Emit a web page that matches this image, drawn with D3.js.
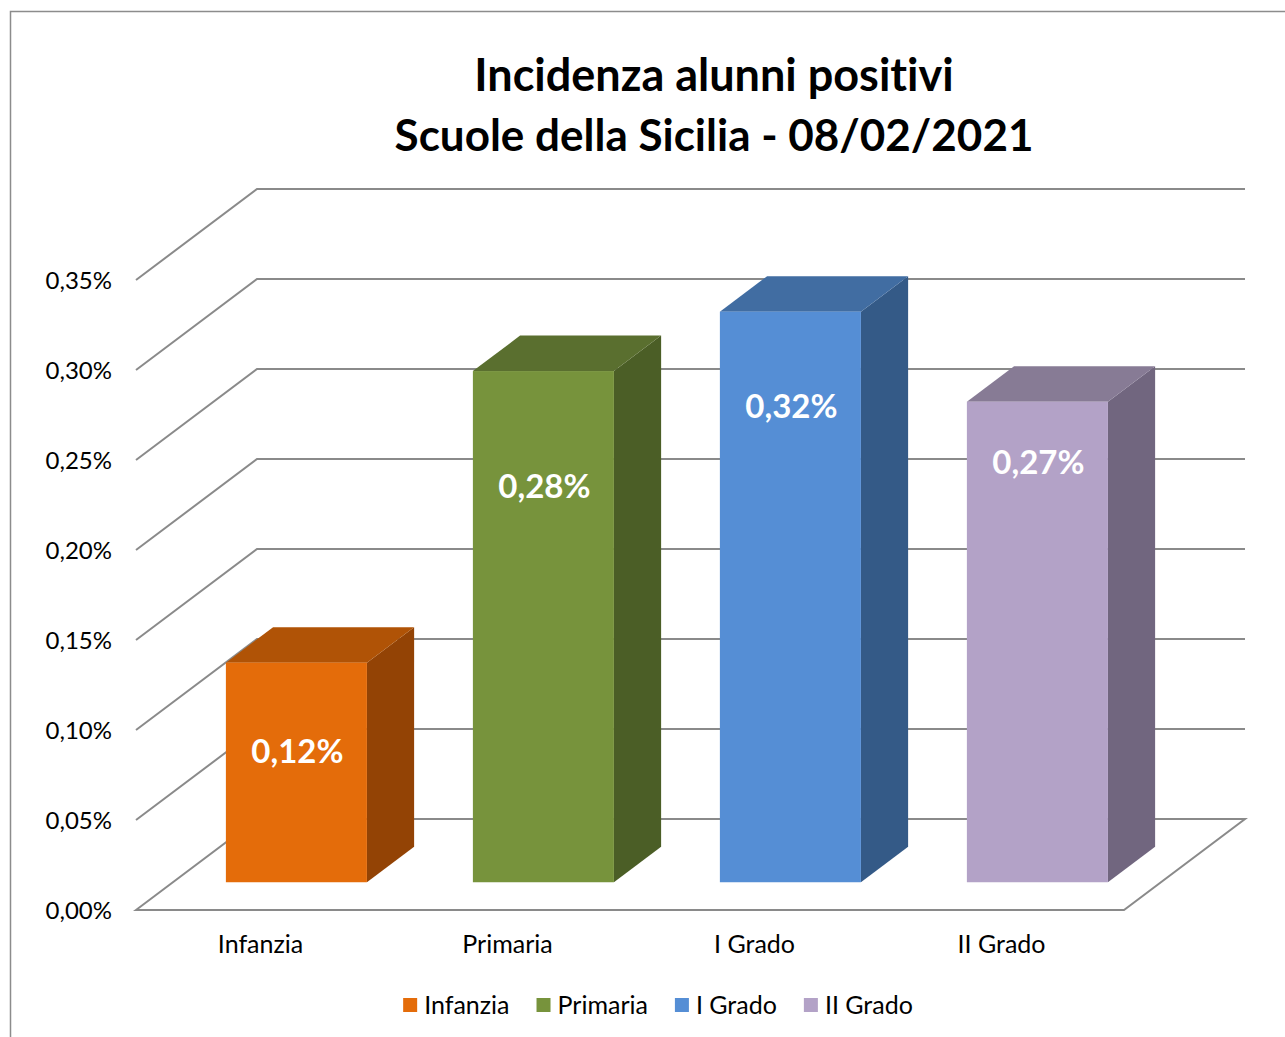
<!DOCTYPE html>
<html>
<head>
<meta charset="utf-8">
<script src="https://cdn.jsdelivr.net/npm/d3@7"></script>
<style>
  html, body { margin: 0; padding: 0; background: #fff; }
  svg { display: block; font-family: Lato, "Open Sans", sans-serif; font-variant-ligatures: none; font-feature-settings: "liga" 0; }
</style>
</head>
<body>
<svg id="chart" width="1285" height="1037"></svg>
<script>
// ---- data ----
const titleLines = ["Incidenza alunni positivi", "Scuole della Sicilia - 08/02/2021"];
const categories = ["Infanzia", "Primaria", "I Grado", "II Grado"];
const values = [0.00122, 0.00284, 0.00317, 0.00267];
const yTicks = [0, 0.0005, 0.001, 0.0015, 0.002, 0.0025, 0.003, 0.0035];
const frontColors = ["#E46C0A", "#77933C", "#558ED5", "#B3A2C7"];
const topColors   = ["#B05306", "#5A6F2F", "#416DA2", "#877B95"];
const sideColors  = ["#934305", "#4B5E26", "#345A87", "#71667F"];

// ---- layout ----
const svg = d3.select("#chart");
const W = 1285, H = 1037;
const floorX0 = 136, floorX1 = 1124, floorY = 910;
const DX = 121, DY = 91;             // full depth offset of the 3D box
const barDepth0 = 0.305, barDepth1 = 0.695;  // bar position inside the depth
const labelDy = [89, 116, 95, 61];   // label centre below front-face top (px)
const titleSizes = [45, 44];

const fmtPct = v => d3.format(".2f")(v * 100).replace(".", ",") + "%";

const y = d3.scaleLinear().domain([0, 0.0035]).range([floorY, floorY - 630]);
const x = d3.scaleBand().domain(categories).range([floorX0, floorX1])
  .paddingInner(0.429).paddingOuter(0.2145);

// frame
svg.append("path")
  .attr("d", `M10.5,${H} L10.5,11.5 L${W},11.5`)
  .attr("fill", "none").attr("stroke", "#8c8c8c").attr("stroke-width", 1.5);

// title
const title = svg.append("g").attr("font-weight", "bold").attr("fill", "#000")
  .attr("text-anchor", "middle");
title.selectAll("text").data(titleLines).join("text")
  .attr("font-size", (d, i) => titleSizes[i])
  .attr("x", 714).attr("y", (d, i) => 91 + i * 60).text(d => d);

// gridlines (back wall + left side wall)
const grid = svg.append("g").attr("stroke", "#8a8a8a").attr("stroke-width", 2).attr("fill", "none");
yTicks.forEach(t => {
  const yy = y(t);
  if (t === 0) {
    grid.append("path").attr("d",
      `M${floorX0},${yy} L${floorX0 + DX},${yy - DY} L${floorX1 + DX},${yy - DY} L${floorX1},${yy} Z`);
  } else {
    grid.append("path").attr("d",
      `M${floorX0},${yy} L${floorX0 + DX},${yy - DY} L${floorX1 + DX},${yy - DY}`);
  }
});

// y tick labels
svg.append("g").attr("font-size", 24).attr("fill", "#000").attr("text-anchor", "end")
  .selectAll("text").data(yTicks).join("text")
  .attr("x", 112).attr("y", d => y(d) + 9).text(fmtPct);

// bars
const ox0 = barDepth0 * DX, oy0 = barDepth0 * DY;
const odx = (barDepth1 - barDepth0) * DX, ody = (barDepth1 - barDepth0) * DY;
const bars = svg.append("g");
categories.forEach((c, i) => {
  const xl = x(c) + ox0, xr = xl + x.bandwidth();
  const yb = y(0) - oy0, yt = y(values[i]) - oy0;
  const g = bars.append("g");
  g.append("path").attr("fill", sideColors[i])
    .attr("d", `M${xr},${yt} L${xr + odx},${yt - ody} L${xr + odx},${yb - ody} L${xr},${yb} Z`);
  g.append("path").attr("fill", topColors[i])
    .attr("d", `M${xl},${yt} L${xl + odx},${yt - ody} L${xr + odx},${yt - ody} L${xr},${yt} Z`);
  g.append("rect").attr("fill", frontColors[i])
    .attr("x", xl).attr("y", yt).attr("width", xr - xl).attr("height", yb - yt);
  g.append("text").attr("x", (xl + xr) / 2 + 1).attr("y", yt + labelDy[i] + 11)
    .attr("text-anchor", "middle").attr("font-size", 33).attr("font-weight", "bold")
    .attr("fill", "#fff").text(fmtPct(values[i]));
});

// category labels
svg.append("g").attr("font-size", 25).attr("fill", "#000").attr("text-anchor", "middle")
  .selectAll("text").data(categories).join("text")
  .attr("x", d => x(d) + x.bandwidth() / 2 + 1).attr("y", 953).text(d => d);

// legend
const leg = svg.append("g").attr("font-size", 25).attr("fill", "#000");
const items = categories.map((c, i) => {
  const g = leg.append("g");
  g.append("rect").attr("width", 14).attr("height", 14).attr("y", 998).attr("fill", frontColors[i]);
  const t = g.append("text").attr("x", 21).attr("y", 1014).text(c);
  return { g, w: 21 + t.node().getComputedTextLength() };
});
const gap = 27;
const total = d3.sum(items, d => d.w) + gap * (items.length - 1);
let cx = 658 - total / 2;
items.forEach(it => { it.g.attr("transform", `translate(${cx},0)`); cx += it.w + gap; });
</script>
</body>
</html>
